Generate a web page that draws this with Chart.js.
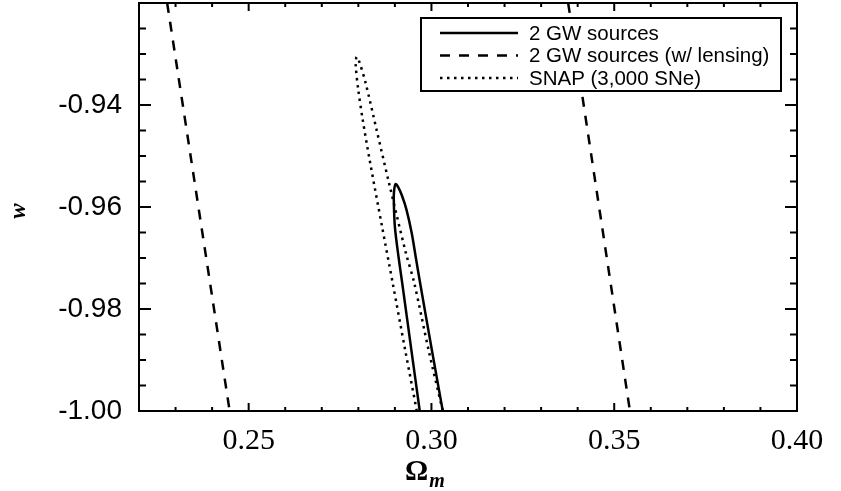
<!DOCTYPE html>
<html>
<head>
<meta charset="utf-8">
<script src="https://cdn.jsdelivr.net/npm/chart.js@4.4.1/dist/chart.umd.min.js"></script>
<style>
    html, body { margin: 0; padding: 0; background: #fff; }
</style>
</head>
<body>
<canvas id="chart" width="841" height="491"></canvas>
<script>
    /*
    ----------------------------------
         Data
    ----------------------------------
    */

    var xTicks = [0.25, 0.30, 0.35, 0.40];
    var yTicks = [-1.00, -0.98, -0.96, -0.94];

    var legendLabels = ['2 GW sources', '2 GW sources (w/ lensing)', 'SNAP (3,000 SNe)'];

    // 2 GW sources contour (solid)
    var gwOm = [0.2968, 0.2945, 0.2920, 0.2910, 0.2900, 0.2897, 0.2898, 0.2902, 0.2909, 0.2919, 0.2932, 0.2946, 0.2957, 0.2969, 0.3001, 0.3031];
    var gwW  = [-1.000, -0.9880, -0.9749, -0.9698, -0.9639, -0.9586, -0.9567, -0.9555, -0.9561, -0.9577, -0.9606, -0.9651, -0.9698, -0.9749, -0.9880, -1.000];

    // 2 GW sources with lensing (dashed, two branches)
    var lensLeftOm  = [0.2277, 0.2329, 0.2448];
    var lensLeftW   = [-0.920, -0.9443, -1.000];
    var lensRightOm = [0.3374, 0.3411, 0.3543];
    var lensRightW  = [-0.920, -0.9374, -1.000];

    // SNAP contour (dotted)
    var snapOm = [0.2960, 0.2928, 0.2894, 0.2865, 0.2831, 0.2812, 0.2800, 0.2793, 0.2795, 0.2801, 0.2820, 0.2850, 0.2884, 0.2930, 0.2953, 0.2992, 0.3031];
    var snapW  = [-1.000, -0.9880, -0.9749, -0.9639, -0.9508, -0.9429, -0.9371, -0.9324, -0.9306, -0.9312, -0.9357, -0.9449, -0.9553, -0.9690, -0.9749, -0.9880, -1.000];

    var toPoints = (xs, ys) => xs.map((x, i) => ({ x: x, y: ys[i] }));

    var solidDash = [];
    var lensDash = [10, 9];
    var snapDash = [2.5, 4.5];

    /*
    ----------------------------------
         Frame, inward ticks, titles
    ----------------------------------
    */

    const frameTicks = {
        id: 'frameTicks',
        afterDatasetsDraw(chart) {
            const ctx = chart.ctx;
            const a = chart.chartArea;
            const xs = chart.scales.x;
            const ys = chart.scales.y;

            ctx.save();
            ctx.strokeStyle = '#000';
            ctx.lineWidth = 2;
            ctx.setLineDash([]);
            ctx.strokeRect(a.left, a.top, a.right - a.left, a.bottom - a.top);

            ctx.beginPath();
            for (var i = 23; i < 40; i++) {
                var px = xs.getPixelForValue(i / 100);
                var len = (i % 5 == 0) ? 8 : 4;
                ctx.moveTo(px, a.bottom);
                ctx.lineTo(px, a.bottom - len);
                ctx.moveTo(px, a.top);
                ctx.lineTo(px, a.top + len);
            }
            for (var j = 1; j < 16; j++) {
                var py = ys.getPixelForValue(-1 + j * 0.005);
                var ylen = (j % 4 == 0) ? 12 : 7;
                ctx.moveTo(a.left, py);
                ctx.lineTo(a.left + ylen, py);
                ctx.moveTo(a.right, py);
                ctx.lineTo(a.right - ylen, py);
            }
            ctx.stroke();

            // axis titles
            ctx.fillStyle = '#000';
            ctx.textBaseline = 'alphabetic';
            ctx.textAlign = 'left';
            ctx.font = 'bold 29px "Liberation Serif"';
            ctx.fillText('\u03A9', 405, 480);
            var ow = ctx.measureText('\u03A9').width;
            ctx.font = 'bold italic 20px "Liberation Serif"';
            ctx.fillText('m', 405 + ow + 1, 487);

            ctx.translate(25, 211);
            ctx.rotate(-Math.PI / 2);
            ctx.textAlign = 'center';
            ctx.font = 'bold italic 23px "Liberation Serif"';
            ctx.fillText('w', 0, 0);
            ctx.restore();
        }
    };

    /*
    ----------------------------------
         Boxed legend inside the plot
    ----------------------------------
    */

    const boxLegend = {
        id: 'boxLegend',
        afterDatasetsDraw(chart) {
            const ctx = chart.ctx;
            var rows = [33, 55.5, 78];
            var dashes = [solidDash, lensDash, snapDash];

            ctx.save();
            ctx.fillStyle = '#fff';
            ctx.fillRect(421, 18, 360, 73);
            ctx.strokeStyle = '#000';
            ctx.lineWidth = 2;
            ctx.strokeRect(421, 18, 360, 73);

            ctx.font = '20.5px "Liberation Sans"';
            ctx.textBaseline = 'middle';
            ctx.fillStyle = '#000';
            legendLabels.forEach((label, k) => {
                ctx.beginPath();
                ctx.setLineDash(dashes[k]);
                ctx.lineWidth = 2.5;
                ctx.moveTo(440, rows[k]);
                ctx.lineTo(518, rows[k]);
                ctx.stroke();
                ctx.fillText(label, 529, rows[k] + 1);
            });
            ctx.restore();
        }
    };

    var lineStyle = {
        showLine: true,
        borderColor: '#000',
        backgroundColor: '#000',
        borderWidth: 2.5,
        pointRadius: 0,
        fill: false
    };

    new Chart(document.getElementById('chart'), {
        type: 'scatter',
        data: {
            datasets: [
                Object.assign({}, lineStyle, { label: legendLabels[0], data: toPoints(gwOm, gwW), tension: 0.3, borderDash: solidDash }),
                Object.assign({}, lineStyle, { label: legendLabels[1], data: toPoints(lensLeftOm, lensLeftW), tension: 0, borderDash: lensDash }),
                Object.assign({}, lineStyle, { label: legendLabels[1], data: toPoints(lensRightOm, lensRightW), tension: 0, borderDash: lensDash }),
                Object.assign({}, lineStyle, { label: legendLabels[2], data: toPoints(snapOm, snapW), tension: 0.3, borderDash: snapDash })
            ]
        },
        options: {
            responsive: false,
            animation: false,
            layout: {
                padding: { left: 0, right: 44, top: 3, bottom: 0 }
            },
            plugins: {
                legend: { display: false },
                tooltip: { enabled: false }
            },
            scales: {
                x: {
                    type: 'linear',
                    min: 0.22,
                    max: 0.40,
                    afterBuildTicks: (s) => { s.ticks = xTicks.map(v => ({ value: v })); },
                    afterFit: (s) => { s.height = 80; s.paddingLeft = 0; s.paddingRight = 0; },
                    grid: { display: false, drawTicks: false },
                    border: { display: false },
                    ticks: {
                        color: '#000',
                        padding: 12,
                        maxRotation: 0,
                        autoSkip: false,
                        font: { family: 'Liberation Serif', size: 30 },
                        callback: (v) => Number(v).toFixed(2)
                    }
                },
                y: {
                    type: 'linear',
                    min: -1.00,
                    max: -0.92,
                    afterBuildTicks: (s) => { s.ticks = yTicks.map(v => ({ value: v })); },
                    afterFit: (s) => { s.width = 139; s.paddingTop = 0; s.paddingBottom = 0; },
                    grid: { display: false, drawTicks: false },
                    border: { display: false },
                    ticks: {
                        color: '#000',
                        padding: 17,
                        autoSkip: false,
                        font: { family: 'Liberation Sans', size: 28 },
                        callback: (v) => Number(v).toFixed(2)
                    }
                }
            }
        },
        plugins: [frameTicks, boxLegend]
    });
</script>
</body>
</html>
